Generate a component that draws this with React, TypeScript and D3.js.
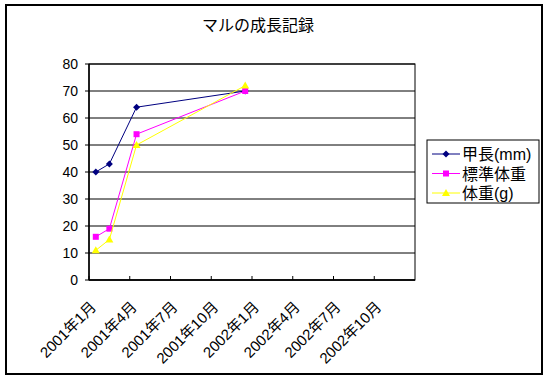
import React from "react";
import * as d3 from "d3";

const title = "マルの成長記録";
const dates = ["2001-01", "2001-02", "2001-04", "2001-12"];
const shellLength = [40, 43, 64, 70];
const standardWeight = [16, 19, 54, 70];
const bodyWeight = [11, 15, 50, 72];
const seriesNames = ["甲長(mm)", "標準体重", "体重(g)"];
const seriesColors = ["#000080", "#FF00FF", "#FFFF00"];
const xTickLabels = ["2001年1月", "2001年4月", "2001年7月", "2001年10月", "2002年1月", "2002年4月", "2002年7月", "2002年10月"];
const yTicks = [0, 10, 20, 30, 40, 50, 60, 70, 80];

const W = 549, H = 380;
const plot = { left: 89, right: 415, top: 64, bottom: 280 };

function monthIndex(s: string) {
  const [y, m] = s.split("-").map(Number);
  return (y - 2001) * 12 + (m - 1);
}

export default function App() {
  const x = d3.scaleLinear().domain([0, 24]).range([plot.left, plot.right]);
  const y = d3.scaleLinear().domain([0, 80]).range([plot.bottom, plot.top]);
  const series = [shellLength, standardWeight, bodyWeight];
  const line = d3.line<number>().x((_, i) => x(monthIndex(dates[i]) + 0.5)).y((v) => y(v));
  const font = "'Liberation Sans', 'Noto Sans CJK JP', sans-serif";

  const marker = (k: number, cx: number, cy: number, key: string) => {
    const c = seriesColors[k];
    if (k === 0) return <path key={key} d={`M${cx},${cy - 3.5}L${cx + 3.5},${cy}L${cx},${cy + 3.5}L${cx - 3.5},${cy}Z`} fill={c} />;
    if (k === 1) return <rect key={key} x={cx - 3} y={cy - 3} width={6} height={6} fill={c} />;
    return <path key={key} d={`M${cx},${cy - 4}L${cx + 4},${cy + 3}L${cx - 4},${cy + 3}Z`} fill={c} />;
  };

  return (
    <svg width={W} height={H} style={{ position: "absolute", left: 0, top: 0, background: "#fff" }} fontFamily={font}>
      <rect x={6} y={5} width={536} height={369} fill="#fff" stroke="#000" strokeWidth={2} />
      <text x={258} y={31} textAnchor="middle" fontSize={16}>{title}</text>
      <rect x={plot.left} y={plot.top} width={plot.right - plot.left} height={plot.bottom - plot.top} fill="#fff" stroke="#000" strokeWidth={1} />
      {yTicks.map((t) => (
        <g key={t}>
          <line x1={plot.left} x2={plot.right} y1={y(t)} y2={y(t)} stroke="#000" strokeWidth={1} />
          <line x1={plot.left - 4} x2={plot.left} y1={y(t)} y2={y(t)} stroke="#000" />
          <text x={78} y={y(t) + 5} textAnchor="end" fontSize={14}>{t}</text>
        </g>
      ))}
      {xTickLabels.map((lab, i) => (
        <g key={lab}>
          <line x1={x(i * 3)} x2={x(i * 3)} y1={plot.bottom} y2={plot.bottom - 4} stroke="#000" />
          <text transform={`translate(${x(i * 3) + 8},${plot.bottom + 28}) rotate(-45)`} textAnchor="end" fontSize={15}>{lab}</text>
        </g>
      ))}
      <line x1={plot.left} x2={plot.left} y1={plot.top} y2={plot.bottom} stroke="#000" strokeWidth={1.5} />
      <line x1={plot.left} x2={plot.right} y1={plot.bottom} y2={plot.bottom} stroke="#000" strokeWidth={1.5} />
      {series.map((s, k) => (
        <g key={k}>
          <path d={line(s) || ""} fill="none" stroke={seriesColors[k]} strokeWidth={1} />
          {s.map((v, i) => marker(k, x(monthIndex(dates[i]) + 0.5), y(v), `${k}-${i}`))}
        </g>
      ))}
      <rect x={427} y={140} width={112} height={63} fill="#fff" stroke="#000" strokeWidth={1} />
      {seriesNames.map((n, k) => {
        const ly = 154 + k * 19.5;
        return (
          <g key={n}>
            <line x1={432} x2={460} y1={ly} y2={ly} stroke={seriesColors[k]} />
            {marker(k, 446, ly, `l${k}`)}
            <text x={462} y={ly + 6} fontSize={16}>{n}</text>
          </g>
        );
      })}
    </svg>
  );
}
